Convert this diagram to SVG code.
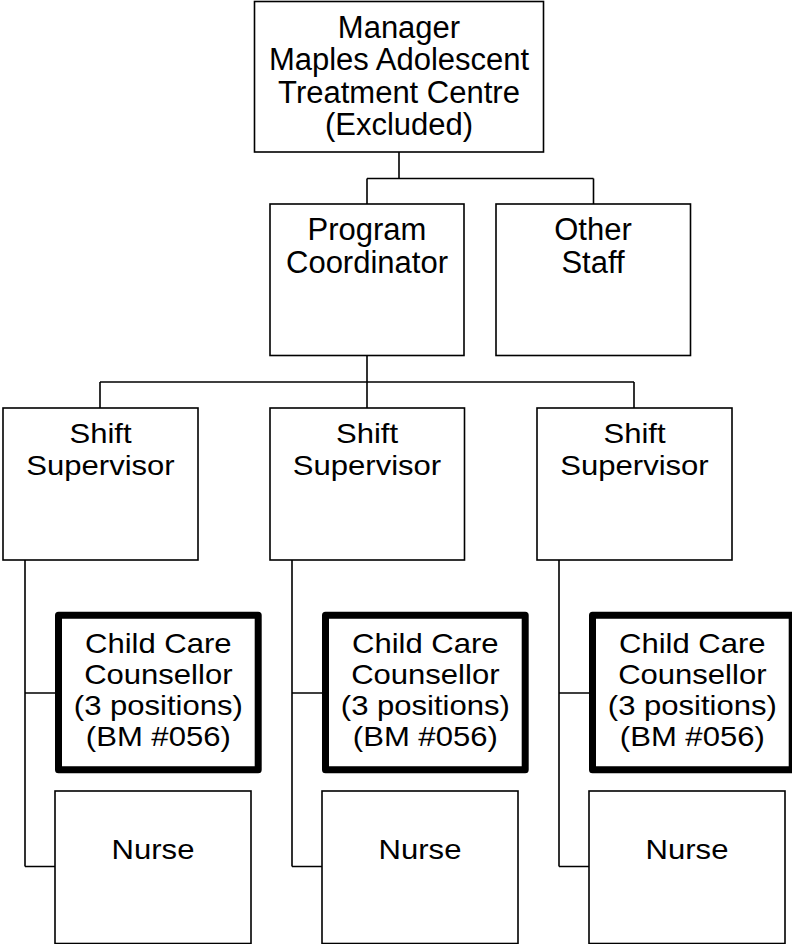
<svg xmlns="http://www.w3.org/2000/svg" width="792" height="944" viewBox="0 0 792 944">
<style>
  .box{fill:#fff;stroke:#000;stroke-width:1.6}
  .thick{fill:#fff;stroke:#000;stroke-width:7;stroke-linejoin:round}
  .conn{fill:none;stroke:#000;stroke-width:1.6}
  text{font-family:"Liberation Sans",Arial,sans-serif;font-size:27px;fill:#000;text-anchor:middle}
  text.top{font-size:31px}
</style>
<rect width="792" height="944" fill="#fff"/>
<g id="connectors">
  <path class="conn" d="M399,152 V178.5 M367,178.5 H593.5 M367,178.5 V204 M593.5,178.5 V204"/>
  <path class="conn" d="M367,355.5 V382 M100,382 H634 M100,382 V408 M367,382 V408 M634,382 V408"/>
  <path class="conn" d="M25,560 V866.5 M25,693 H55 M25,866.5 H55"/>
  <path class="conn" d="M292,560 V866.5 M292,693 H322 M292,866.5 H322"/>
  <path class="conn" d="M559,560 V866.5 M559,693 H589 M559,866.5 H589"/>
</g>
<g id="manager">
  <rect class="box" x="254.5" y="1.5" width="289" height="150.5"/>
  <text class="top" x="399" y="37.5">Manager</text>
  <text class="top" x="399" y="70">Maples Adolescent</text>
  <text class="top" x="399" y="102.5">Treatment Centre</text>
  <text class="top" x="399" y="135">(Excluded)</text>
</g>
<g id="program-coordinator">
  <rect class="box" x="270" y="204" width="194" height="151.5"/>
  <text class="top" x="367" y="240">Program</text>
  <text class="top" x="367" y="273">Coordinator</text>
</g>
<g id="other-staff">
  <rect class="box" x="496" y="204" width="194.5" height="151.5"/>
  <text class="top" x="593" y="240">Other</text>
  <text class="top" x="593" y="273">Staff</text>
</g>
<g id="shift-supervisor-1">
  <rect class="box" x="3" y="408" width="195" height="152"/>
  <text transform="matrix(1.15 0 0 1 100.5 0)" y="443">Shift</text>
  <text transform="matrix(1.15 0 0 1 100.5 0)" y="475">Supervisor</text>
</g>
<g id="shift-supervisor-2">
  <rect class="box" x="270" y="408" width="194.5" height="152"/>
  <text transform="matrix(1.15 0 0 1 367 0)" y="443">Shift</text>
  <text transform="matrix(1.15 0 0 1 367 0)" y="475">Supervisor</text>
</g>
<g id="shift-supervisor-3">
  <rect class="box" x="537" y="408" width="195" height="152"/>
  <text transform="matrix(1.15 0 0 1 634.5 0)" y="443">Shift</text>
  <text transform="matrix(1.15 0 0 1 634.5 0)" y="475">Supervisor</text>
</g>
<g id="child-care-counsellor-1">
  <rect class="thick" x="58.5" y="615.2" width="199.7" height="154.6"/>
  <text transform="matrix(1.15 0 0 1 158.3 0)" y="653">Child Care</text>
  <text transform="matrix(1.15 0 0 1 158.3 0)" y="684">Counsellor</text>
  <text transform="matrix(1.15 0 0 1 158.3 0)" y="715">(3 positions)</text>
  <text transform="matrix(1.15 0 0 1 158.3 0)" y="746">(BM #056)</text>
</g>
<g id="child-care-counsellor-2">
  <rect class="thick" x="325.5" y="615.2" width="199.7" height="154.6"/>
  <text transform="matrix(1.15 0 0 1 425.3 0)" y="653">Child Care</text>
  <text transform="matrix(1.15 0 0 1 425.3 0)" y="684">Counsellor</text>
  <text transform="matrix(1.15 0 0 1 425.3 0)" y="715">(3 positions)</text>
  <text transform="matrix(1.15 0 0 1 425.3 0)" y="746">(BM #056)</text>
</g>
<g id="child-care-counsellor-3">
  <rect class="thick" x="592.5" y="615.2" width="199.7" height="154.6"/>
  <text transform="matrix(1.15 0 0 1 692.3 0)" y="653">Child Care</text>
  <text transform="matrix(1.15 0 0 1 692.3 0)" y="684">Counsellor</text>
  <text transform="matrix(1.15 0 0 1 692.3 0)" y="715">(3 positions)</text>
  <text transform="matrix(1.15 0 0 1 692.3 0)" y="746">(BM #056)</text>
</g>
<g id="nurse-1">
  <rect class="box" x="55" y="791" width="196" height="152.5"/>
  <text transform="matrix(1.15 0 0 1 153 0)" y="859">Nurse</text>
</g>
<g id="nurse-2">
  <rect class="box" x="322" y="791" width="196" height="152.5"/>
  <text transform="matrix(1.15 0 0 1 420 0)" y="859">Nurse</text>
</g>
<g id="nurse-3">
  <rect class="box" x="589" y="791" width="196" height="152.5"/>
  <text transform="matrix(1.15 0 0 1 687 0)" y="859">Nurse</text>
</g>
</svg>
